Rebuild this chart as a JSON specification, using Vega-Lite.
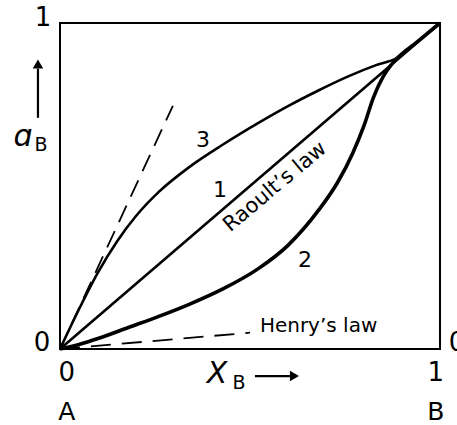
{
  "$schema": "https://vega.github.io/schema/vega-lite/v6.json",
  "width": 380,
  "height": 326,
  "autosize": {"type": "none"},
  "padding": {"left": 60, "top": 23, "right": 17, "bottom": 76},
  "background": "white",
  "config": {
    "view": {"stroke": "black", "strokeWidth": 2},
    "text": {"font": "DejaVu Sans", "color": "black"}
  },
  "datasets": {
    "curves": [
      {"c": "1", "x": 0, "y": 0}, {"c": "1", "x": 1, "y": 1},
      {"c": "3", "x": 0, "y": 0}, {"c": "3", "x": 0.05, "y": 0.122}, {"c": "3", "x": 0.1, "y": 0.235},
      {"c": "3", "x": 0.15, "y": 0.33}, {"c": "3", "x": 0.2, "y": 0.408}, {"c": "3", "x": 0.26, "y": 0.482},
      {"c": "3", "x": 0.34, "y": 0.558}, {"c": "3", "x": 0.43, "y": 0.628}, {"c": "3", "x": 0.52, "y": 0.692},
      {"c": "3", "x": 0.6, "y": 0.745}, {"c": "3", "x": 0.68, "y": 0.793}, {"c": "3", "x": 0.76, "y": 0.837},
      {"c": "3", "x": 0.83, "y": 0.87}, {"c": "3", "x": 0.886, "y": 0.892}, {"c": "3", "x": 0.94, "y": 0.942},
      {"c": "3", "x": 1, "y": 1},
      {"c": "2", "x": 0, "y": 0}, {"c": "2", "x": 0.05, "y": 0.014}, {"c": "2", "x": 0.1, "y": 0.032},
      {"c": "2", "x": 0.18, "y": 0.066}, {"c": "2", "x": 0.26, "y": 0.1}, {"c": "2", "x": 0.34, "y": 0.137},
      {"c": "2", "x": 0.43, "y": 0.185}, {"c": "2", "x": 0.52, "y": 0.245}, {"c": "2", "x": 0.6, "y": 0.318},
      {"c": "2", "x": 0.68, "y": 0.425}, {"c": "2", "x": 0.73, "y": 0.51}, {"c": "2", "x": 0.77, "y": 0.6},
      {"c": "2", "x": 0.8, "y": 0.685}, {"c": "2", "x": 0.825, "y": 0.772}, {"c": "2", "x": 0.85, "y": 0.835},
      {"c": "2", "x": 0.87, "y": 0.869}, {"c": "2", "x": 0.886, "y": 0.89}, {"c": "2", "x": 0.94, "y": 0.942},
      {"c": "2", "x": 1, "y": 1},
      {"c": "tangent", "x": 0, "y": 0}, {"c": "tangent", "x": 0.297, "y": 0.746},
      {"c": "henry", "x": 0, "y": 0}, {"c": "henry", "x": 0.5, "y": 0.05}
    ],
    "labels": [
      {"role": "tick", "text": "1", "x": -0.045, "y": 1.015},
      {"role": "tick", "text": "0", "x": -0.047, "y": 0.018},
      {"role": "tick", "text": "0", "x": 0.018, "y": -0.074},
      {"role": "tick", "text": "1", "x": 0.989, "y": -0.074},
      {"role": "tick", "text": "0", "x": 1.045, "y": 0.018},
      {"role": "end", "text": "A", "x": 0.018, "y": -0.193},
      {"role": "end", "text": "B", "x": 0.989, "y": -0.193},
      {"role": "curve", "text": "3", "x": 0.376, "y": 0.641},
      {"role": "curve", "text": "1", "x": 0.421, "y": 0.488},
      {"role": "curve", "text": "2", "x": 0.645, "y": 0.273},
      {"role": "symbol", "text": "X", "x": 0.413, "y": -0.077},
      {"role": "symbol", "text": "ɑ", "x": -0.097, "y": 0.65},
      {"role": "sub", "text": "B", "x": 0.471, "y": -0.104},
      {"role": "sub", "text": "B", "x": -0.05, "y": 0.626},
      {"role": "henry", "text": "Henry’s law", "x": 0.526, "y": 0.052},
      {"role": "raoult", "text": "Raoult’s law", "x": 0.566, "y": 0.497}
    ],
    "arrows": [
      {"dir": "right", "x": 0.513, "y": -0.083, "x2": 0.61, "y2": -0.083, "hx": 0.617, "hy": -0.083},
      {"dir": "up", "x": -0.058, "y": 0.709, "x2": -0.058, "y2": 0.86, "hx": -0.058, "hy": 0.874}
    ]
  },
  "encoding": {
    "x": {"field": "x", "type": "quantitative", "scale": {"domain": [0, 1], "nice": false, "zero": false}, "axis": null},
    "y": {"field": "y", "type": "quantitative", "scale": {"domain": [0, 1], "nice": false, "zero": false}, "axis": null}
  },
  "layer": [
    {
      "data": {"name": "curves"},
      "transform": [{"filter": "datum.c === 'henry'"}],
      "mark": {"type": "line", "color": "black", "strokeWidth": 1.8, "strokeDash": [20, 11]},
      "encoding": {}
    },
    {
      "data": {"name": "curves"},
      "transform": [{"filter": "datum.c === 'tangent'"}],
      "mark": {"type": "line", "color": "black", "strokeWidth": 1.8, "strokeDash": [18, 10]},
      "encoding": {}
    },
    {
      "data": {"name": "curves"},
      "transform": [{"filter": "datum.c === '1' || datum.c === '3'"}],
      "mark": {"type": "line", "color": "black", "strokeWidth": 2.6, "interpolate": "monotone"},
      "encoding": {"detail": {"field": "c"}}
    },
    {
      "data": {"name": "curves"},
      "transform": [{"filter": "datum.c === '2'"}],
      "mark": {"type": "line", "color": "black", "strokeWidth": 3.6, "interpolate": "monotone"},
      "encoding": {}
    },
    {
      "data": {"name": "arrows"},
      "mark": {"type": "rule", "color": "black", "strokeWidth": 2.2},
      "encoding": {"x2": {"field": "x2"}, "y2": {"field": "y2"}}
    },
    {
      "data": {"name": "arrows"},
      "transform": [{"filter": "datum.dir === 'right'"}],
      "mark": {"type": "point", "shape": "triangle-right", "filled": true, "color": "black", "size": 110, "opacity": 1},
      "encoding": {"x": {"field": "hx", "type": "quantitative"}, "y": {"field": "hy", "type": "quantitative"}}
    },
    {
      "data": {"name": "arrows"},
      "transform": [{"filter": "datum.dir === 'up'"}],
      "mark": {"type": "point", "shape": "triangle-up", "filled": true, "color": "black", "size": 110, "opacity": 1},
      "encoding": {"x": {"field": "hx", "type": "quantitative"}, "y": {"field": "hy", "type": "quantitative"}}
    },
    {
      "data": {"name": "labels"},
      "transform": [{"filter": "datum.role === 'tick'"}],
      "mark": {"type": "text", "fontSize": 26, "baseline": "middle", "align": "center"},
      "encoding": {"text": {"field": "text"}}
    },
    {
      "data": {"name": "labels"},
      "transform": [{"filter": "datum.role === 'end'"}],
      "mark": {"type": "text", "fontSize": 25, "baseline": "middle", "align": "center"},
      "encoding": {"text": {"field": "text"}}
    },
    {
      "data": {"name": "labels"},
      "transform": [{"filter": "datum.role === 'curve'"}],
      "mark": {"type": "text", "fontSize": 22, "baseline": "middle", "align": "center"},
      "encoding": {"text": {"field": "text"}}
    },
    {
      "data": {"name": "labels"},
      "transform": [{"filter": "datum.role === 'symbol'"}],
      "mark": {"type": "text", "fontSize": 30, "fontStyle": "italic", "baseline": "middle", "align": "center"},
      "encoding": {"text": {"field": "text"}}
    },
    {
      "data": {"name": "labels"},
      "transform": [{"filter": "datum.role === 'sub'"}],
      "mark": {"type": "text", "fontSize": 19, "baseline": "middle", "align": "center"},
      "encoding": {"text": {"field": "text"}}
    },
    {
      "data": {"name": "labels"},
      "transform": [{"filter": "datum.role === 'henry'"}],
      "mark": {"type": "text", "fontSize": 20, "baseline": "alphabetic", "align": "left"},
      "encoding": {"text": {"field": "text"}}
    },
    {
      "data": {"name": "labels"},
      "transform": [{"filter": "datum.role === 'raoult'"}],
      "mark": {"type": "text", "fontSize": 21, "baseline": "middle", "align": "center", "angle": -40},
      "encoding": {"text": {"field": "text"}}
    }
  ]
}
